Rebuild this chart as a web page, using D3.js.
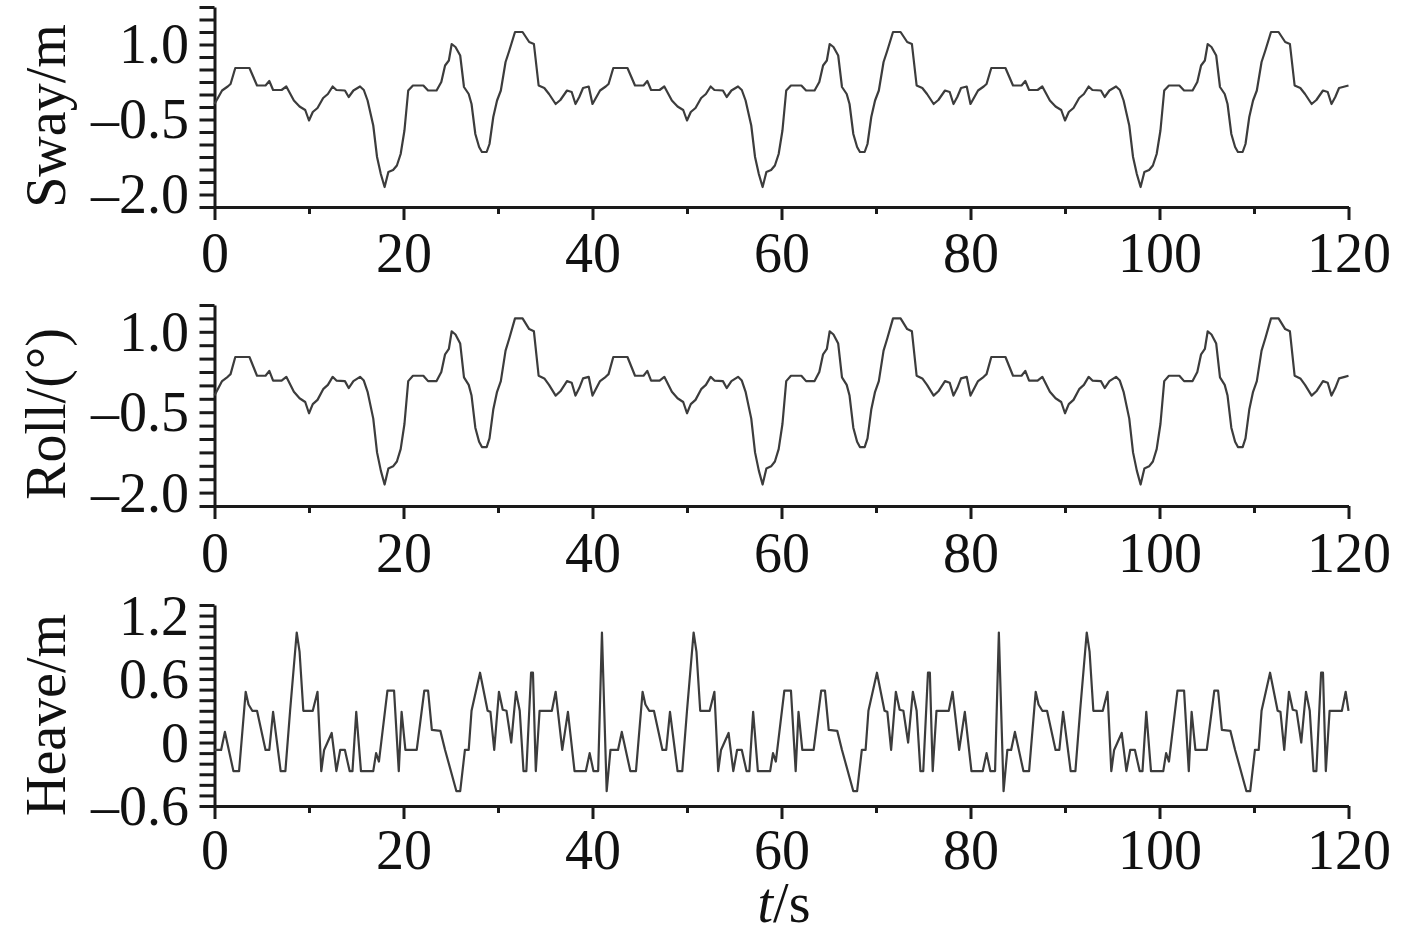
<!DOCTYPE html>
<html>
<head>
<meta charset="utf-8">
<script src="https://cdn.jsdelivr.net/npm/d3@7"></script>
<style>
    body { margin: 0; background: #fff; }
    svg { display: block; }
    text { font-family: "Liberation Serif", "Times New Roman", serif; fill: #111; }
</style>
</head>
<body>
<div id="chart"></div>
<script>
// tick labels
var timeTicks = [0, 20, 40, 60, 80, 100, 120];
var swayTicks = [-2.0, -0.5, 1.0];
var rollTicks = [-2.0, -0.5, 1.0];
var heaveTicks = [-0.6, 0, 0.6, 1.2];

// [t (s), value]
var swaySeries = [
    [0.0,-0.19],[0.8,0.08],[1.4,0.16],[1.7,0.21],[2.2,0.53],[3.7,0.53],[4.5,0.18],[5.4,0.18],[5.8,0.27],[6.2,0.09],[7.1,0.09],[7.6,0.16],[8.4,-0.12],[9.0,-0.24],[9.6,-0.31],[10.0,-0.52],[10.4,-0.35],[10.9,-0.27],[11.5,-0.07],[12.0,0.01],[12.5,0.16],[12.9,0.09],[13.8,0.08],[14.2,-0.05],[14.7,0.08],[15.4,0.16],[15.8,0.09],[16.2,-0.12],[16.8,-0.62],[17.2,-1.25],[17.6,-1.59],[18.0,-1.85],[18.4,-1.55],[18.9,-1.51],[19.3,-1.42],[19.7,-1.19],[20.1,-0.72],[20.5,0.08],[21.0,0.18],[22.1,0.18],[22.6,0.08],[23.5,0.08],[24.0,0.25],[24.4,0.58],[24.8,0.68],[25.1,1.01],[25.5,0.95],[26.0,0.78],[26.4,0.15],[26.9,0.01],[27.2,-0.19],[27.6,-0.79],[28.0,-1.05],[28.3,-1.15],[28.8,-1.15],[29.1,-0.99],[29.5,-0.45],[29.9,-0.12],[30.3,0.08],[30.8,0.65],[31.2,0.88],[31.8,1.25],[32.6,1.25],[33.3,1.05],[33.8,1.01],[34.3,0.18],[34.9,0.13],[35.4,0.01],[36.1,-0.19],[36.6,-0.11],[37.3,0.08],[37.8,0.05],[38.2,-0.19],[38.6,-0.05],[39.0,0.13],[39.6,0.16],
    [40.0,-0.19],[40.8,0.08],[41.4,0.16],[41.7,0.21],[42.2,0.53],[43.7,0.53],[44.5,0.18],[45.4,0.18],[45.8,0.27],[46.2,0.09],[47.1,0.09],[47.6,0.16],[48.4,-0.12],[49.0,-0.24],[49.6,-0.31],[50.0,-0.52],[50.4,-0.35],[50.9,-0.27],[51.5,-0.07],[52.0,0.01],[52.5,0.16],[52.9,0.09],[53.8,0.08],[54.2,-0.05],[54.7,0.08],[55.4,0.16],[55.8,0.09],[56.2,-0.12],[56.8,-0.62],[57.2,-1.25],[57.6,-1.59],[58.0,-1.85],[58.4,-1.55],[58.9,-1.51],[59.3,-1.42],[59.7,-1.19],[60.1,-0.72],[60.5,0.08],[61.0,0.18],[62.1,0.18],[62.6,0.08],[63.5,0.08],[64.0,0.25],[64.4,0.58],[64.8,0.68],[65.1,1.01],[65.5,0.95],[66.0,0.78],[66.4,0.15],[66.9,0.01],[67.2,-0.19],[67.6,-0.79],[68.0,-1.05],[68.3,-1.15],[68.8,-1.15],[69.1,-0.99],[69.5,-0.45],[69.9,-0.12],[70.3,0.08],[70.8,0.65],[71.2,0.88],[71.8,1.25],[72.6,1.25],[73.3,1.05],[73.8,1.01],[74.3,0.18],[74.9,0.13],[75.4,0.01],[76.1,-0.19],[76.6,-0.11],[77.3,0.08],[77.8,0.05],[78.2,-0.19],[78.6,-0.05],[79.0,0.13],[79.6,0.16],
    [80.0,-0.19],[80.8,0.08],[81.4,0.16],[81.7,0.21],[82.2,0.53],[83.7,0.53],[84.5,0.18],[85.4,0.18],[85.8,0.27],[86.2,0.09],[87.1,0.09],[87.6,0.16],[88.4,-0.12],[89.0,-0.24],[89.6,-0.31],[90.0,-0.52],[90.4,-0.35],[90.9,-0.27],[91.5,-0.07],[92.0,0.01],[92.5,0.16],[92.9,0.09],[93.8,0.08],[94.2,-0.05],[94.7,0.08],[95.4,0.16],[95.8,0.09],[96.2,-0.12],[96.8,-0.62],[97.2,-1.25],[97.6,-1.59],[98.0,-1.85],[98.4,-1.55],[98.9,-1.51],[99.3,-1.42],[99.7,-1.19],[100.1,-0.72],[100.5,0.08],[101.0,0.18],[102.1,0.18],[102.6,0.08],[103.5,0.08],[104.0,0.25],[104.4,0.58],[104.8,0.68],[105.1,1.01],[105.5,0.95],[106.0,0.78],[106.4,0.15],[106.9,0.01],[107.2,-0.19],[107.6,-0.79],[108.0,-1.05],[108.3,-1.15],[108.8,-1.15],[109.1,-0.99],[109.5,-0.45],[109.9,-0.12],[110.3,0.08],[110.8,0.65],[111.2,0.88],[111.8,1.25],[112.6,1.25],[113.3,1.05],[113.8,1.01],[114.3,0.18],[114.9,0.13],[115.4,0.01],[116.1,-0.19],[116.6,-0.11],[117.3,0.08],[117.8,0.05],[118.2,-0.19],[118.6,-0.05],[119.0,0.13],[119.6,0.16],[120.0,0.18]
];

var rollSeries = [
    [0.0,-0.19],[0.8,0.08],[1.4,0.16],[1.7,0.21],[2.2,0.53],[3.7,0.53],[4.5,0.18],[5.4,0.18],[5.8,0.27],[6.2,0.09],[7.1,0.09],[7.6,0.16],[8.4,-0.12],[9.0,-0.24],[9.6,-0.31],[10.0,-0.52],[10.4,-0.35],[10.9,-0.27],[11.5,-0.07],[12.0,0.01],[12.5,0.16],[12.9,0.09],[13.8,0.08],[14.2,-0.05],[14.7,0.08],[15.4,0.16],[15.8,0.09],[16.2,-0.12],[16.8,-0.62],[17.2,-1.25],[17.6,-1.59],[18.0,-1.85],[18.4,-1.55],[18.9,-1.51],[19.3,-1.42],[19.7,-1.19],[20.1,-0.72],[20.5,0.08],[21.0,0.18],[22.1,0.18],[22.6,0.08],[23.5,0.08],[24.0,0.25],[24.4,0.58],[24.8,0.68],[25.1,1.01],[25.5,0.95],[26.0,0.78],[26.4,0.15],[26.9,0.01],[27.2,-0.19],[27.6,-0.79],[28.0,-1.05],[28.3,-1.15],[28.8,-1.15],[29.1,-0.99],[29.5,-0.45],[29.9,-0.12],[30.3,0.08],[30.8,0.65],[31.2,0.88],[31.8,1.25],[32.6,1.25],[33.3,1.05],[33.8,1.01],[34.3,0.18],[34.9,0.13],[35.4,0.01],[36.1,-0.19],[36.6,-0.11],[37.3,0.08],[37.8,0.05],[38.2,-0.19],[38.6,-0.05],[39.0,0.13],[39.6,0.16],
    [40.0,-0.19],[40.8,0.08],[41.4,0.16],[41.7,0.21],[42.2,0.53],[43.7,0.53],[44.5,0.18],[45.4,0.18],[45.8,0.27],[46.2,0.09],[47.1,0.09],[47.6,0.16],[48.4,-0.12],[49.0,-0.24],[49.6,-0.31],[50.0,-0.52],[50.4,-0.35],[50.9,-0.27],[51.5,-0.07],[52.0,0.01],[52.5,0.16],[52.9,0.09],[53.8,0.08],[54.2,-0.05],[54.7,0.08],[55.4,0.16],[55.8,0.09],[56.2,-0.12],[56.8,-0.62],[57.2,-1.25],[57.6,-1.59],[58.0,-1.85],[58.4,-1.55],[58.9,-1.51],[59.3,-1.42],[59.7,-1.19],[60.1,-0.72],[60.5,0.08],[61.0,0.18],[62.1,0.18],[62.6,0.08],[63.5,0.08],[64.0,0.25],[64.4,0.58],[64.8,0.68],[65.1,1.01],[65.5,0.95],[66.0,0.78],[66.4,0.15],[66.9,0.01],[67.2,-0.19],[67.6,-0.79],[68.0,-1.05],[68.3,-1.15],[68.8,-1.15],[69.1,-0.99],[69.5,-0.45],[69.9,-0.12],[70.3,0.08],[70.8,0.65],[71.2,0.88],[71.8,1.25],[72.6,1.25],[73.3,1.05],[73.8,1.01],[74.3,0.18],[74.9,0.13],[75.4,0.01],[76.1,-0.19],[76.6,-0.11],[77.3,0.08],[77.8,0.05],[78.2,-0.19],[78.6,-0.05],[79.0,0.13],[79.6,0.16],
    [80.0,-0.19],[80.8,0.08],[81.4,0.16],[81.7,0.21],[82.2,0.53],[83.7,0.53],[84.5,0.18],[85.4,0.18],[85.8,0.27],[86.2,0.09],[87.1,0.09],[87.6,0.16],[88.4,-0.12],[89.0,-0.24],[89.6,-0.31],[90.0,-0.52],[90.4,-0.35],[90.9,-0.27],[91.5,-0.07],[92.0,0.01],[92.5,0.16],[92.9,0.09],[93.8,0.08],[94.2,-0.05],[94.7,0.08],[95.4,0.16],[95.8,0.09],[96.2,-0.12],[96.8,-0.62],[97.2,-1.25],[97.6,-1.59],[98.0,-1.85],[98.4,-1.55],[98.9,-1.51],[99.3,-1.42],[99.7,-1.19],[100.1,-0.72],[100.5,0.08],[101.0,0.18],[102.1,0.18],[102.6,0.08],[103.5,0.08],[104.0,0.25],[104.4,0.58],[104.8,0.68],[105.1,1.01],[105.5,0.95],[106.0,0.78],[106.4,0.15],[106.9,0.01],[107.2,-0.19],[107.6,-0.79],[108.0,-1.05],[108.3,-1.15],[108.8,-1.15],[109.1,-0.99],[109.5,-0.45],[109.9,-0.12],[110.3,0.08],[110.8,0.65],[111.2,0.88],[111.8,1.25],[112.6,1.25],[113.3,1.05],[113.8,1.01],[114.3,0.18],[114.9,0.13],[115.4,0.01],[116.1,-0.19],[116.6,-0.11],[117.3,0.08],[117.8,0.05],[118.2,-0.19],[118.6,-0.05],[119.0,0.13],[119.6,0.16],[120.0,0.18]
];

var heaveSeries = [
    [0.0,-0.07],[0.7,-0.07],[1.1,0.10],[2.0,-0.27],[2.6,-0.27],[3.3,0.48],[3.6,0.36],[4.0,0.30],[4.5,0.30],[5.4,-0.07],[5.8,-0.07],[6.2,0.29],[7.0,-0.27],[7.5,-0.27],[8.0,0.30],[8.7,1.04],[9.0,0.86],[9.4,0.30],[10.4,0.30],[10.9,0.48],[11.3,-0.27],[11.6,-0.07],[12.4,0.09],[12.9,-0.27],[13.3,-0.07],[13.8,-0.07],[14.3,-0.27],[14.6,-0.27],[15.0,0.29],[15.5,-0.27],[16.8,-0.27],[17.1,-0.10],[17.4,-0.18],[18.3,0.49],[19.0,0.49],[19.5,-0.27],[19.8,0.29],[20.2,-0.07],[21.4,-0.07],[22.2,0.49],[22.6,0.49],[23.0,0.12],[23.9,0.11],[24.4,-0.07],[25.6,-0.46],[26.0,-0.46],[26.5,-0.07],[26.9,-0.07],[27.2,0.30],[28.1,0.66],[28.9,0.30],[29.2,0.29],[29.6,-0.07],[30.1,0.48],[30.5,0.31],[30.9,0.30],[31.4,0.00],[31.9,0.48],[32.3,0.30],[32.7,-0.27],[33.0,-0.27],[33.5,0.66],[33.7,0.66],[34.0,-0.27],[34.4,0.30],[35.7,0.30],[36.1,0.48],[36.8,-0.07],[37.4,0.29],[38.1,-0.27],[39.3,-0.27],[39.7,-0.10],[40.1,-0.27],[40.6,-0.27],[41.0,1.04],[41.5,-0.46],[41.9,-0.07],
    [42.7,-0.07],[43.1,0.10],[44.0,-0.27],[44.6,-0.27],[45.3,0.48],[45.6,0.36],[46.0,0.30],[46.5,0.30],[47.4,-0.07],[47.8,-0.07],[48.2,0.29],[49.0,-0.27],[49.5,-0.27],[50.0,0.30],[50.7,1.04],[51.0,0.86],[51.4,0.30],[52.4,0.30],[52.9,0.48],[53.3,-0.27],[53.6,-0.07],[54.4,0.09],[54.9,-0.27],[55.3,-0.07],[55.8,-0.07],[56.3,-0.27],[56.6,-0.27],[57.0,0.29],[57.5,-0.27],[58.8,-0.27],[59.1,-0.10],[59.4,-0.18],[60.3,0.49],[61.0,0.49],[61.5,-0.27],[61.8,0.29],[62.2,-0.07],[63.4,-0.07],[64.2,0.49],[64.6,0.49],[65.0,0.12],[65.9,0.11],[66.4,-0.07],[67.6,-0.46],[68.0,-0.46],[68.5,-0.07],[68.9,-0.07],[69.2,0.30],[70.1,0.66],[70.9,0.30],[71.2,0.29],[71.6,-0.07],[72.1,0.48],[72.5,0.31],[72.9,0.30],[73.4,0.00],[73.9,0.48],[74.3,0.30],[74.7,-0.27],[75.0,-0.27],[75.5,0.66],[75.7,0.66],[76.0,-0.27],[76.4,0.30],[77.7,0.30],[78.1,0.48],[78.8,-0.07],[79.4,0.29],[80.1,-0.27],[81.3,-0.27],[81.7,-0.10],[82.1,-0.27],[82.6,-0.27],[83.0,1.04],[83.5,-0.46],[83.9,-0.07],
    [84.3,-0.07],[84.7,0.10],[85.6,-0.27],[86.2,-0.27],[86.9,0.48],[87.2,0.36],[87.6,0.30],[88.1,0.30],[89.0,-0.07],[89.4,-0.07],[89.8,0.29],[90.6,-0.27],[91.1,-0.27],[91.6,0.30],[92.3,1.04],[92.6,0.86],[93.0,0.30],[94.0,0.30],[94.5,0.48],[94.9,-0.27],[95.2,-0.07],[96.0,0.09],[96.5,-0.27],[96.9,-0.07],[97.4,-0.07],[97.9,-0.27],[98.2,-0.27],[98.6,0.29],[99.1,-0.27],[100.4,-0.27],[100.7,-0.10],[101.0,-0.18],[101.9,0.49],[102.6,0.49],[103.1,-0.27],[103.4,0.29],[103.8,-0.07],[105.0,-0.07],[105.8,0.49],[106.2,0.49],[106.6,0.12],[107.5,0.11],[108.0,-0.07],[109.2,-0.46],[109.6,-0.46],[110.1,-0.07],[110.5,-0.07],[110.8,0.30],[111.7,0.66],[112.5,0.30],[112.8,0.29],[113.2,-0.07],[113.7,0.48],[114.1,0.31],[114.5,0.30],[115.0,0.00],[115.5,0.48],[115.9,0.30],[116.3,-0.27],[116.6,-0.27],[117.1,0.66],[117.3,0.66],[117.6,-0.27],[118.0,0.30],[119.3,0.30],[119.7,0.48],[120.0,0.30]
];

var width = 1417;
var height = 936;
var xLeft = 214.5;
var xRight = 1348.5;
var fontSize = 56;

// layout for the three stacked panels
var panels = [
    { label: "Sway/m",   data: swaySeries,  ticks: swayTicks,  domain: [-2.25, 1.75], step: 0.25, top: 7,   bottom: 207, labelY: 116, tickBase: 272 },
    { label: "Roll/(°)", data: rollSeries,  ticks: rollTicks,  domain: [-2.25, 1.5],  step: 0.25, top: 305, bottom: 506, labelY: 414, tickBase: 572 },
    { label: "Heave/m",  data: heaveSeries, ticks: heaveTicks, domain: [-0.6, 1.3],   step: 0.1,  top: 605, bottom: 806, labelY: 715, tickBase: 869 }
];

document.addEventListener('DOMContentLoaded', function () {
    var svg = d3.select("#chart")
        .append("svg")
        .attr("width", width)
        .attr("height", height);

    svg.append("rect")
        .attr("width", width)
        .attr("height", height)
        .attr("fill", "#fff");

    panels.forEach(function (p) {
        drawPanel(svg, p);
    });

    // x axis title
    var title = svg.append("text")
        .attr("x", 784)
        .attr("y", 922)
        .attr("text-anchor", "middle")
        .style("font-size", fontSize + "px");
    title.append("tspan").style("font-style", "italic").text("t");
    title.append("tspan").text("/s");
});

function fmtValue(d) {
    if (Math.abs(d) < 1e-9) return "0";
    return (d < 0 ? "\u2013" : "") + d3.format(".1f")(Math.abs(d));
}

function styleAxis(g) {
    g.attr("font-family", null).attr("font-size", null);
    g.selectAll("path.domain")
        .attr("stroke", "#1a1a1a")
        .attr("stroke-width", 3);
    g.selectAll("line")
        .attr("stroke", "#1a1a1a")
        .attr("stroke-width", 3);
    g.selectAll("text")
        .style("font-size", fontSize + "px")
        .attr("fill", "#111");
}

function drawPanel(svg, p) {
    var x = d3.scaleLinear().domain([0, 120]).range([xLeft, xRight]);
    var y = d3.scaleLinear().domain(p.domain).range([p.bottom, p.top]);
    var g = svg.append("g");

    // y axis: all small ticks
    var minor = d3.range(p.domain[0], p.domain[1] + p.step / 2, p.step);
    g.append("g")
        .attr("transform", `translate(${xLeft},0)`)
        .call(d3.axisLeft(y).tickValues(minor).tickSize(15).tickSizeOuter(0).tickFormat(""))
        .call(styleAxis);

    // y axis labels
    var yl = g.append("g")
        .attr("transform", `translate(${xLeft},0)`)
        .call(d3.axisLeft(y).tickValues(p.ticks).tickSize(0).tickPadding(25.5).tickFormat(fmtValue))
        .call(styleAxis);
    yl.select("path.domain").remove();
    yl.selectAll("text").attr("dy", "0.33em");

    // x axis minor ticks
    g.append("g")
        .attr("transform", `translate(0,${p.bottom})`)
        .call(d3.axisBottom(x).tickValues(d3.range(10, 120, 20)).tickSize(7).tickSizeOuter(0).tickFormat(""))
        .call(styleAxis);

    // x axis major ticks with labels
    var xa = g.append("g")
        .attr("transform", `translate(0,${p.bottom})`)
        .call(d3.axisBottom(x).tickValues(timeTicks).tickSize(13).tickSizeOuter(0).tickFormat(d3.format("d")))
        .call(styleAxis);
    xa.selectAll("text")
        .attr("y", p.tickBase - p.bottom)
        .attr("dy", 0);

    // rotated y title
    g.append("text")
        .attr("transform", `translate(65,${p.labelY}) rotate(-90)`)
        .attr("text-anchor", "middle")
        .style("font-size", fontSize + "px")
        .text(p.label);

    // the series line
    var line = d3.line()
        .x(d => x(d[0]))
        .y(d => y(d[1]));

    g.append("path")
        .datum(p.data)
        .attr("d", line)
        .attr("fill", "none")
        .attr("stroke", "#3c3c3c")
        .attr("stroke-width", 2.2)
        .attr("stroke-linejoin", "round");
}
</script>
</body>
</html>
